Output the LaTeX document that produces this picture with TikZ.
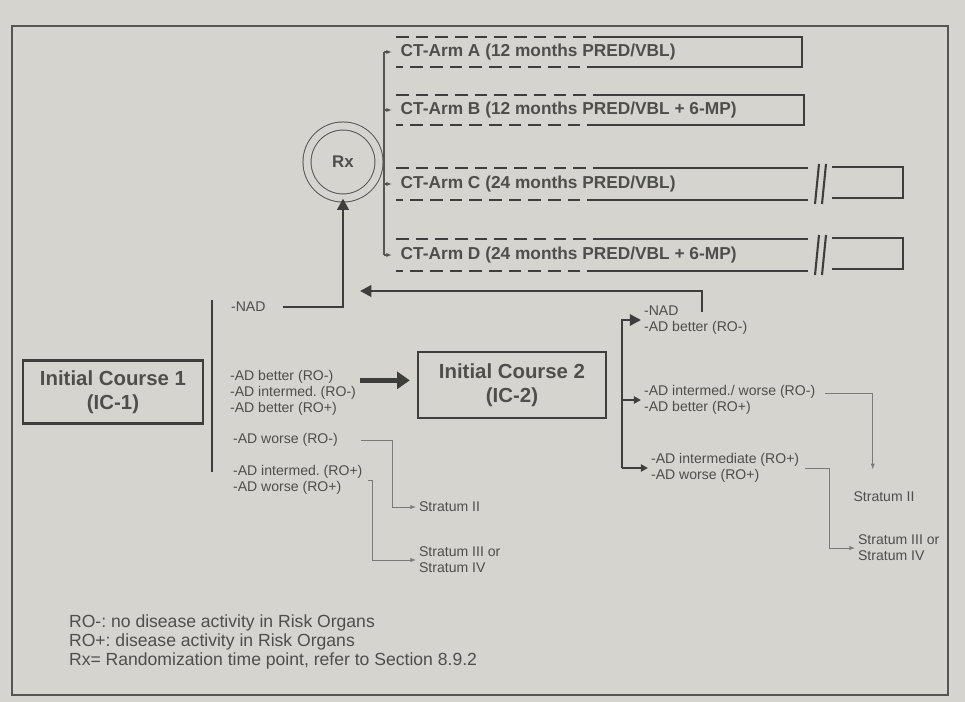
\documentclass[tikz,border=0pt]{standalone}
\usepackage{fontspec}
\setmainfont{Liberation Sans}
\usetikzlibrary{arrows.meta,positioning}
\frenchspacing

\begin{document}
\begin{tikzpicture}[
  x=0.025cm, y=-0.025cm,
  font=\fontsize{10}{11.2}\selectfont,
  lbl/.style={inner sep=2pt, align=left, anchor=west, text=ink},
  icbox/.style={draw=dline, line width=1.7pt, align=center, text=ink,
                font=\fontsize{14.5}{17}\selectfont\bfseries},
  armlbl/.style={inner xsep=6pt, anchor=west, text=ink,
                 font=\fontsize{12.3}{13}\selectfont\bfseries},
  armline/.style={draw=dline, line width=1.5pt},
  armdash/.style={armline, dash pattern=on 9pt off 5pt},
  rxnode/.style={circle, draw=mline, line width=0.7pt, double=bg,
                 double distance=5pt, minimum size=1.8cm, text=ink,
                 font=\fontsize{12}{14}\selectfont\bfseries},
  thickarr/.style={draw=dline, line width=1.9pt,
                   -{Triangle[length=8pt,width=8pt]}},
  fatarr/.style={draw=dline, line width=4pt,
                 -{Triangle[length=9pt,width=12pt]}},
  bararr/.style={draw=dline, line width=1.9pt,
                 -{Triangle[length=5pt,width=5pt]}},
  spinearr/.style={draw=mline, line width=0.8pt,
                   -{Latex[length=4pt,width=3pt]}},
  thinarr/.style={draw=lline, line width=0.6pt,
                  -{Latex[length=4pt,width=3pt]}}
]
  \definecolor{bg}{HTML}{D5D4CE}
  \definecolor{ink}{HTML}{4E4E4C}
  \definecolor{dline}{HTML}{3E3E3C}
  \definecolor{mline}{HTML}{555553}
  \definecolor{lline}{HTML}{7A7A78}

  % page and frame
  \fill[bg] (0,0) rectangle (965,702);
  \draw[mline, line width=1.1pt] (12,26) rectangle (948,695);

  % ================= INITIAL COURSES =================
  \node[icbox, minimum width=4.5cm, minimum height=1.58cm] (ic1) at (113,392)
    {Initial Course 1\\(IC-1)};
  \node[icbox, minimum width=4.7cm, minimum height=1.65cm] (ic2) at (512,385)
    {Initial Course 2\\(IC-2)};

  % ================= RANDOMIZATION AND ARMS =================
  \node[rxnode] (rx) at (343,162) {Rx};

  \node[armlbl] (armA) at (392,52)  {CT-Arm A (12 months PRED/VBL)};
  \node[armlbl] (armB) at (392,110) {CT-Arm B (12 months PRED/VBL + 6-MP)};
  \node[armlbl] (armC) at (392,184) {CT-Arm C (24 months PRED/VBL)};
  \node[armlbl] (armD) at (392,255) {CT-Arm D (24 months PRED/VBL + 6-MP)};

  % arm A and B boxes
  \draw[armdash] (396,37) -- (600,37);
  \draw[armline] (600,37) -- (802,37) -- (802,67) -- (600,67);
  \draw[armdash] (600,67) -- (396,67);
  \draw[armdash] (396,95) -- (600,95);
  \draw[armline] (600,95) -- (804,95) -- (804,125) -- (600,125);
  \draw[armdash] (600,125) -- (396,125);
  % arm C and D boxes, cut
  \draw[armdash] (396,168) -- (600,168);
  \draw[armline] (600,168) -- (808,168);
  \draw[armline] (808,200) -- (600,200);
  \draw[armdash] (600,200) -- (396,200);
  \draw[armline] (815,204) -- (819,164) (822,204) -- (826,164);
  \draw[armline] (832,167) -- (903,167) -- (903,198) -- (832,198);
  \draw[armdash] (396,239) -- (600,239);
  \draw[armline] (600,239) -- (808,239);
  \draw[armline] (808,271) -- (600,271);
  \draw[armdash] (600,271) -- (396,271);
  \draw[armline] (815,275) -- (819,235) (822,275) -- (826,235);
  \draw[armline] (832,238) -- (903,238) -- (903,269) -- (832,269);

  \coordinate (spine) at (384,52);
  \draw[mline, line width=0.8pt] (spine) -- (spine |- armD.west);
  \draw[spinearr] (spine) -- (armA.west);
  \draw[spinearr] (spine |- armB.west) -- (armB.west);
  \draw[spinearr] (spine |- armC.west) -- (armC.west);
  \draw[spinearr] (spine |- armD.west) -- (armD.west);

  % ================= RESPONSE AFTER IC-1 =================
  \draw[dline, line width=1.7pt] (212,300) -- (212,472);
  \node[lbl] (nad1) at (228,307) {-NAD};
  \node[lbl] (grpL1) at (227,393)
    {-AD better (RO-)\\-AD intermed. (RO-)\\-AD better (RO+)};
  \node[lbl] (lw1) at (230,440) {-AD worse (RO-)};
  \node[lbl] (lw2) at (230,480) {-AD intermed. (RO+)\\-AD worse (RO+)};
  \node[lbl] (strat1) at (416,507) {Stratum II};
  \node[lbl] (strat2) at (416,560) {Stratum III or\\Stratum IV};

  \draw[thickarr] ([xshift=10pt]nad1.east) -| (rx.south);
  \path ([xshift=1pt,yshift=9pt]grpL1.east) coordinate (fatstart);
  \draw[fatarr, shorten >=5pt] (fatstart) -- (fatstart -| ic2.west);
  \draw[thinarr] ([xshift=14pt]lw1.east) -| ([xshift=-17pt]strat1.west)
    -- (strat1.west);
  \draw[thinarr] ([xshift=2pt]lw2.east) -| ([xshift=-31pt]strat2.west)
    -- (strat2.west);

  % ================= RESPONSE AFTER IC-2 =================
  \coordinate (rbar) at (622,0);
  \node[lbl] (grpR1) at (641,320) {-NAD\\-AD better (RO-)};
  \node[lbl] (grpR2) at (641,400)
    {-AD intermed./ worse (RO-)\\-AD better (RO+)};
  \node[lbl] (grpR3) at (648,468) {-AD intermediate (RO+)\\-AD worse (RO+)};
  \node[lbl] (strat3) at (884,497) [anchor=center] {Stratum II};
  \node[lbl] (strat4) at (855,548) {Stratum III or\\Stratum IV};

  \draw[thickarr] (rbar |- grpR3.west) -- (rbar |- grpR1.west)
    -- (grpR1.west);
  \draw[bararr] (rbar |- grpR2.west) -- (grpR2.west);
  \draw[bararr] (rbar |- grpR3.west) -- (grpR3.west);

  \coordinate (retstart) at (702,312);
  \coordinate (retend) at (360,291);
  \draw[thickarr] (retstart) |- (retend);

  \draw[thinarr, shorten >=14pt] ([xshift=5pt,yshift=5pt]grpR2.east)
    -| ([xshift=-8pt]strat3.north);
  \draw[thinarr] ([xshift=2pt]grpR3.east) -| ([xshift=-18pt]strat4.west)
    -- (strat4.west);

  % ================= LEGEND =================
  \node[lbl, font=\fontsize{12.5}{13.3}\selectfont] (legend) at (66,642)
    {RO-: no disease activity in Risk Organs\\
     RO+: disease activity in Risk Organs\\
     Rx= Randomization time point, refer to Section 8.9.2};
\end{tikzpicture}
\end{document}
